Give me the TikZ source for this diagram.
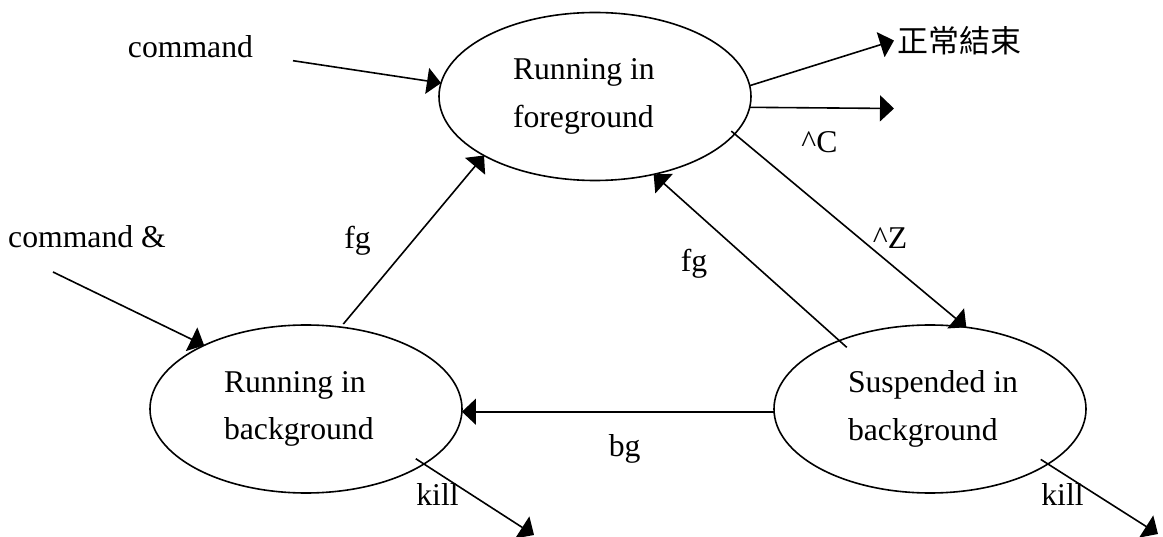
\documentclass[tikz,border=0pt]{standalone}
\usepackage{fontspec}
\setmainfont{Liberation Serif}
\newfontfamily\cjkfont{Noto Sans CJK TC}
\usetikzlibrary{arrows.meta,shapes.geometric}

% two left-aligned lines of a state name
\newcommand\twolines[2]{\parbox{164pt}{\mbox{#1}\\\mbox{#2}}}

\begin{document}
\begin{tikzpicture}[x=1pt,y=-1pt,
  every node/.style={font=\fontsize{31.7}{47.6}\selectfont},
  state/.style={draw, ellipse, line width=1.6pt, minimum width=312pt,
    minimum height=168pt, inner sep=0pt, outer sep=0pt},
  flow/.style={line width=1.6pt, -{Triangle[length=14pt,width=26pt]}},
  tag/.style={anchor=base, inner sep=0pt}]
\useasboundingbox (0,0) rectangle (1163,537);

% process states
\node[state] (T) at (595,96.5) {\twolines{Running in}{foreground}};
\node[state] (L) at (306,409) {\twolines{Running in}{background}};
\node[state] (S) at (930,409) {\twolines{Suspended in}{background}};
\node[anchor=west, inner sep=3pt, font=\cjkfont\fontsize{31}{31}\selectfont]
  (done) at (894,40.5) {正常結束};

% loose ends of the transitions
\coordinate (cmd)   at (293,60.7);
\coordinate (cmdbg) at (53,272);
\coordinate (intr)  at (894,108.5);
\coordinate (killL) at (534,535);
\coordinate (killS) at (1158,534);

% transitions
\draw[flow] (cmd) -- (T.175.1);
\draw[flow] (cmdbg) -- (L.148.5);
\draw[flow] (T.4.24) -- (done.west);
\draw[flow] (T.-4.24) -- (intr);
\draw[flow, shorten <=-4.4pt] (T.-15.25) -- (S.66.6);
\draw[flow, shorten <=-10pt] (S.143.2) -- (T.307.2);
\draw[flow, shorten <=4pt] (L.67.3) -- (T.208);
\draw[flow] (S.181.5) -- (L.-1.9);
\draw[flow, shorten <=-9.7pt] (L.-25.9) -- (killL);
\draw[flow, shorten <=-8.5pt] (S.-25.95) -- (killS);

% transition labels
\node[tag] (lcmd)   at (190.5,57.5) {command};
\node[tag] (lcmdbg) at (87,248) {command \&};
\node[tag] (lfg1)   at (357.5,249) {fg};
\node[tag] (lc)     at (819.5,152.5) {\textasciicircum C};
\node[tag] (lz)     at (890,248.3) {\textasciicircum Z};
\node[tag] (lfg2)   at (694,272) {fg};
\node[tag] (lbg)    at (624.7,456.5) {bg};
\node[tag] (lk1)    at (437.5,505) {kill};
\node[tag] (lk2)    at (1062.5,505) {kill};
\end{tikzpicture}
\end{document}
